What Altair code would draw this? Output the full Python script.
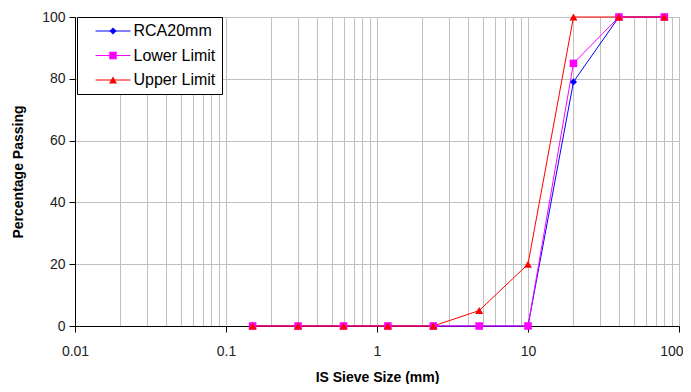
import altair as alt
import pandas as pd

sieve = [0.15, 0.3, 0.6, 1.18, 2.36, 4.75, 10, 20, 40, 80]
rca = [0, 0, 0, 0, 0, 0, 0, 79, 100, 100]
lower = [0, 0, 0, 0, 0, 0, 0, 85, 100, 100]
upper = [0, 0, 0, 0, 0, 5, 20, 100, 100, 100]

series_names = ["RCA20mm", "Lower Limit", "Upper Limit"]
series_colors = ["#0000FF", "#FF00FF", "#FF0000"]
series_shapes = ["diamond", "square", "triangle-up"]
marker_sizes = [50, 64, 81]

y_ticks = [0, 20, 40, 60, 80, 100]
x_grid = [m * 10.0 ** e for e in range(-2, 2) for m in range(1, 10)] + [100]

rows = []
for idx, (name, vals) in enumerate(zip(series_names, [rca, lower, upper])):
    for s, v in zip(sieve, vals):
        rows.append({"size": s, "pct": v, "series": name, "series2": name, "draw": idx})
df = pd.DataFrame(rows)

font = "Liberation Sans"
decade_test = "indexof([0.01,0.1,1,10,100], datum.value) >= 0"

x_enc = alt.X(
    "size:Q",
    scale=alt.Scale(type="log", domain=[0.01, 100]),
    axis=alt.Axis(
        values=x_grid,
        title="IS Sieve Size (mm)",
        labelExpr=decade_test + " ? format(datum.value, '~g') : ''",
        tickOpacity={"condition": {"test": decade_test, "value": 1}, "value": 0},
        labelAlign={"condition": {"test": "datum.value == 100", "value": "right"}, "value": "center"},
        labelOffset={"condition": {"test": "datum.value == 100", "value": 4}, "value": 0},
        labelFlush=False,
        labelOverlap=False,
        tickSize=6,
        labelPadding=12,
        titlePadding=12,
    ),
)
y_enc = alt.Y(
    "pct:Q",
    scale=alt.Scale(domain=[0, 100], nice=False),
    axis=alt.Axis(values=y_ticks, title="Percentage Passing", tickSize=6, labelPadding=4, titlePadding=16),
)

common_legend = dict(
    orient="none", legendX=2, legendY=0, title=None,
    padding=6, labelFontSize=16, labelFont=font, rowPadding=8.5,
    symbolOffset=22, labelOffset=12.5, symbolSize=60,
)
line_legend = alt.Legend(
    symbolType="M-4.5,0H4.5", symbolStrokeWidth=1.2, strokeColor="black", fillColor="white",
    labelColor="black", **common_legend,
)
pt_legend = alt.Legend(
    labelExpr="' '", symbolStrokeWidth=0, **common_legend,
)

base = alt.Chart(df)
lines = base.mark_line(strokeWidth=1).encode(
    x=x_enc, y=y_enc,
    color=alt.Color("series2:N", scale=alt.Scale(range=series_colors), sort=series_names, legend=line_legend),
)
pts = base.mark_point(filled=True, opacity=1, strokeWidth=0).encode(
    x=x_enc, y=y_enc,
    fill=alt.Fill("series:N", scale=alt.Scale(domain=series_names, range=series_colors), legend=pt_legend),
    shape=alt.Shape("series:N", scale=alt.Scale(domain=series_names, range=series_shapes), legend=pt_legend),
    size=alt.Size("series:N", scale=alt.Scale(domain=series_names, range=marker_sizes), legend=pt_legend),
    order=alt.Order("draw:Q", sort="ascending"),
)

chart = alt.layer(lines, pts).properties(
    width=604, height=309,
    autosize=alt.AutoSizeParams(type="none"),
    padding={"left": 67, "top": 9, "right": 4, "bottom": 58},
).configure_view(stroke="#a0a0a0").configure_axis(
    gridColor="#c0c0c0", gridWidth=1, domainColor="black", tickColor="black",
    labelFont=font, labelFontSize=14, labelColor="#222", titleFont=font, titleFontSize=14,
    titleFontWeight="bold", titleColor="black",
)

chart.save("out.html", embed_options={"renderer": "svg", "actions": False})
